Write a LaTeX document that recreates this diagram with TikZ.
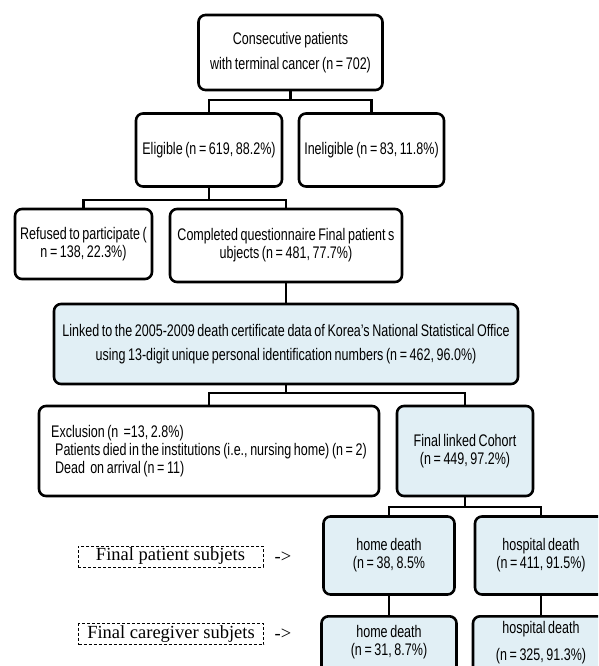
\documentclass[tikz,border=0pt]{standalone}
\usepackage{fontspec}
\setmainfont[FakeStretch=0.745,WordSpace=0.75]{Liberation Sans}
\newfontfamily\notefont{Liberation Serif}
\usepackage{xcolor}
\definecolor{paleblue}{RGB}{225,239,245}

\begin{document}
\begin{tikzpicture}[x=1pt,y=-1pt,
	box/.style={draw,line width=2.6pt,rounded corners=7pt,align=center,inner sep=2pt,font=\fontsize{16.8}{18}\selectfont},
	bluebox/.style={box,fill=paleblue},
	wire/.style={line width=2.2pt},
	note/.style={draw,dashed,dash pattern=on 3pt off 2pt,line width=0.8pt,minimum width=185pt,minimum height=21pt,inner sep=0pt,font=\notefont\fontsize{18.5}{20}\selectfont}]
		\clip(0,0)rectangle(598,666);
		\node[box,minimum width=184,minimum height=75](top)at(290.5,52.5){Consecutive patients\\[7pt]with terminal cancer (n = 702)};
		\node[box,minimum width=146,minimum height=73](elig)at(209,150){Eligible (n = 619, 88.2\%)};
		\node[box,minimum width=145,minimum height=73](inel)at(371.5,150){Ineligible (n = 83, 11.8\%)};
		\node[box,minimum width=137,minimum height=70](refu)at(83.5,244){Refused to participate (\\n = 138, 22.3\%)};
		\node[box,minimum width=232,minimum height=73](comp)at(286,245.5){Completed questionnaire Final patient s\\ubjects (n = 481, 77.7\%)};
		\node[bluebox,minimum width=464,minimum height=80](link)at(286,344){Linked to the 2005-2009 death certificate data of Korea's National Statistical Office\\[6pt]using 13-digit unique personal identification numbers (n = 462, 96.0\%)};
		\node[box,minimum width=340,minimum height=90,align=left](excl)at(209,451){Exclusion (n\ \ =13, 2.8\%)\\\hspace*{4pt}Patients died in the institutions (i.e., nursing home) (n = 2)\\\hspace*{4pt}Dead\ \ on arrival (n = 11)};
		\node[bluebox,minimum width=136,minimum height=90](cohort)at(465,451){Final linked Cohort\\(n = 449, 97.2\%)};
		\node[bluebox,minimum width=131,minimum height=78](home1)at(389,555.5){home death\\(n = 38, 8.5\%};
		\node[bluebox,minimum width=132,minimum height=78](hosp1)at(541,555.5){hospital death\\(n = 411, 91.5\%)};
		\node[bluebox,minimum width=135,anchor=north,inner ysep=9pt,text depth=45pt](home2)at(389,615){home death\\(n = 31, 8.7\%)};
		\node[bluebox,minimum width=136,anchor=north,inner ysep=5pt,text depth=45pt](hosp2)at(541,615){hospital death\\[9pt](n = 325, 91.3\%)};
		\node[note](pnote)at(170.5,556.5){Final patient subjets};
		\node[note](cnote)at(171,634){Final caregiver subjets};
		\node[font=\notefont\fontsize{18.5}{20}\selectfont](parrow)at(283,557){->};
		\node[font=\notefont\fontsize{18.5}{20}\selectfont](carrow)at(283,634){->};
		\coordinate(j1)at(290.5,100);
		\coordinate(j2)at(209,200);
		\coordinate(j3)at(286,393);
		\coordinate(j4)at(465,507);
		\draw[wire](top.south)--(j1);
		\draw[wire](elig.north)|-(j1)-|(inel.north);
		\draw[wire](elig.south)--(j2);
		\draw[wire](refu.north)|-(j2)-|(comp.north);
		\draw[wire](comp.south)--(link.north);
		\draw[wire](link.south)--(j3);
		\draw[wire](excl.north)|-(j3)-|(cohort.north);
		\draw[wire](cohort.south)--(j4);
		\draw[wire](home1.north)|-(j4)-|(hosp1.north);
		\draw[wire](home1.south)--(home2.north);
		\draw[wire](hosp1.south)--(hosp2.north);
		\end{tikzpicture}
\end{document}
